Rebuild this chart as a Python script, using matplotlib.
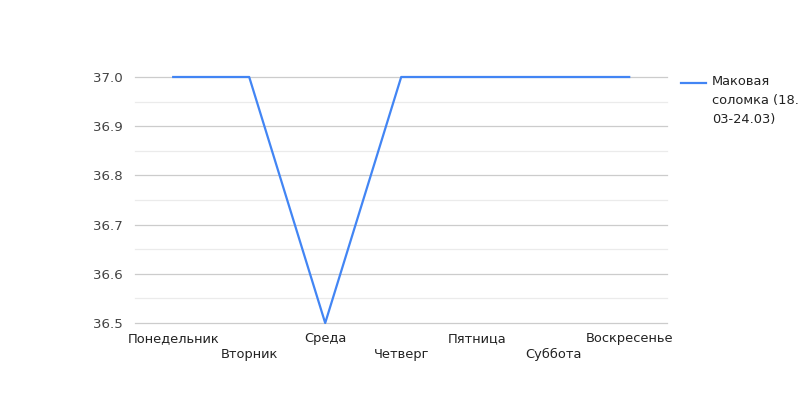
import matplotlib
matplotlib.use('Agg')
import matplotlib.pyplot as plt

days = ['Понедельник', 'Вторник', 'Среда', 'Четверг', 'Пятница', 'Суббота', 'Воскресенье']
values = [37.0, 37.0, 36.5, 37.0, 37.0, 37.0, 37.0]
series_name = 'Маковая\nсоломка (18.\n03-24.03)'
y_ticks = [36.5, 36.6, 36.7, 36.8, 36.9, 37.0]
y_minor = [36.55, 36.65, 36.75, 36.85, 36.95]

fig = plt.figure(figsize=(8, 4), dpi=100)
ax = fig.add_axes([0.169, 0.1925, 0.665, 0.615])

x = list(range(len(days)))
ax.plot(x, values, color='#4285f4', lw=1.6, zorder=3, clip_on=False)

ax.set_xlim(-0.5, len(days) - 0.5)
ax.set_ylim(36.5, 37.0)
for v in y_ticks:
    ax.axhline(v, color='#cccccc', lw=0.9, zorder=1, clip_on=False)
for v in y_minor:
    ax.axhline(v, color='#ebebeb', lw=0.9, zorder=1, clip_on=False)

ax.set_yticks(y_ticks)
ax.set_yticklabels(['%.1f' % v for v in y_ticks])
ax.tick_params(axis='y', length=0, pad=9, labelsize=9.6, labelcolor='#444444')
ax.set_xticks([])
for s in ax.spines.values():
    s.set_visible(False)

# staggered category labels
for i, d in enumerate(days):
    off = -11.5 if i % 2 == 0 else -23
    ax.annotate(d, (i, 36.5), xytext=(0, off), textcoords='offset points',
                ha='center', va='center', fontsize=9.4, color='#222222',
                annotation_clip=False)

# legend
fig.add_artist(plt.Line2D([681 / 800, 706 / 800], [1 - 83 / 400] * 2,
                          color='#4285f4', lw=1.6))
fig.text(712 / 800, 1 - 75 / 400, series_name, ha='left', va='top',
         fontsize=9.4, color='#222222', linespacing=1.6)

fig.savefig('out.png', dpi=100)
